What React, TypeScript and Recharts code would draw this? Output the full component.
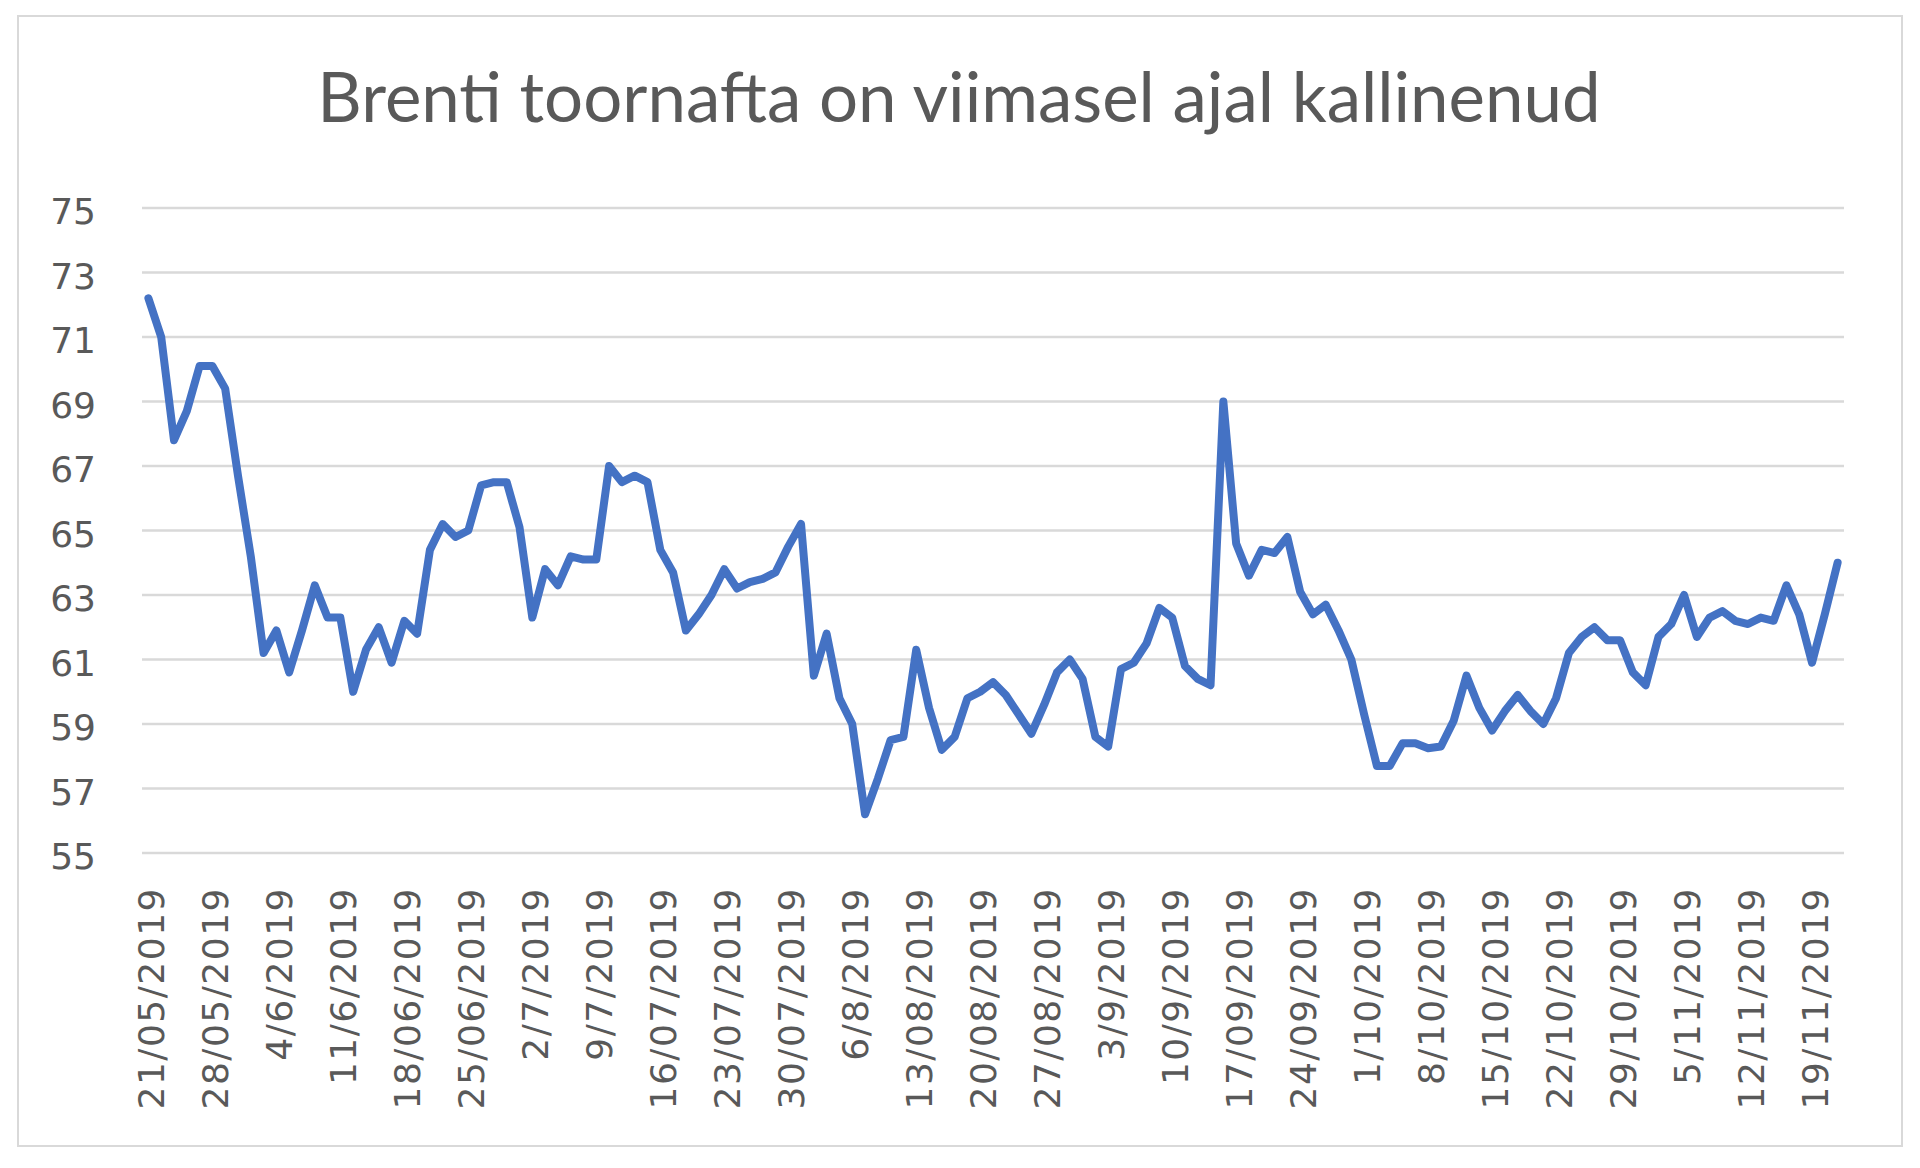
import React from 'react';
import { LineChart, Line, XAxis, YAxis, CartesianGrid } from 'recharts';

// Brent daily close, one value per trading day, 21/05/2019 .. 21/11/2019
const prices = [
  72.2, 71.0, 67.8, 68.7, 70.1, 70.1, 69.4, 66.7, 64.2, 61.2,
  61.9, 60.6, 61.9, 63.3, 62.3, 62.3, 60.0, 61.3, 62.0, 60.9,
  62.2, 61.8, 64.4, 65.2, 64.8, 65.0, 66.4, 66.5, 66.5, 65.1,
  62.3, 63.8, 63.3, 64.2, 64.1, 64.1, 67.0, 66.5, 66.7, 66.5,
  64.4, 63.7, 61.9, 62.4, 63.0, 63.8, 63.2, 63.4, 63.5, 63.7,
  64.5, 65.2, 60.5, 61.8, 59.8, 59.0, 56.2, 57.3, 58.5, 58.6,
  61.3, 59.5, 58.2, 58.6, 59.8, 60.0, 60.3, 59.9, 59.3, 58.7,
  59.6, 60.6, 61.0, 60.4, 58.6, 58.3, 60.7, 60.9, 61.5, 62.6,
  62.3, 60.8, 60.4, 60.2, 69.0, 64.6, 63.6, 64.4, 64.3, 64.8,
  63.1, 62.4, 62.7, 61.9, 61.0, 59.3, 57.7, 57.7, 58.4, 58.4,
  58.25, 58.3, 59.1, 60.5, 59.5, 58.8, 59.4, 59.9, 59.4, 59.0,
  59.8, 61.2, 61.7, 62.0, 61.6, 61.6, 60.6, 60.2, 61.7, 62.1,
  63.0, 61.7, 62.3, 62.5, 62.2, 62.1, 62.3, 62.2, 63.3, 62.4,
  60.9, 62.4, 64.0,
];

// one label every 5 trading days
const tickLabels = [
  '21/05/2019', '28/05/2019', '4/6/2019', '11/6/2019', '18/06/2019',
  '25/06/2019', '2/7/2019', '9/7/2019', '16/07/2019', '23/07/2019',
  '30/07/2019', '6/8/2019', '13/08/2019', '20/08/2019', '27/08/2019',
  '3/9/2019', '10/9/2019', '17/09/2019', '24/09/2019', '1/10/2019',
  '8/10/2019', '15/10/2019', '22/10/2019', '29/10/2019', '5/11/2019',
  '12/11/2019', '19/11/2019',
];
const labelStep = 5;

const yTicks = [55, 57, 59, 61, 63, 65, 67, 69, 71, 73, 75];

const title = 'Brenti toornafta on viimasel ajal kallinenud';

const data = prices.map((price, i) => ({ i, price }));
const xTicks = tickLabels.map((_, k) => k * labelStep);

const textColor = '#595959';
const tickFont = '"DejaVu Sans", Verdana, sans-serif';

const XTick = (props: any) => {
  const { x, y, payload } = props;
  return (
    <g transform={`translate(${x},${y})`}>
      <text
        transform="rotate(-90)"
        x={-34}
        y={0}
        dy={16}
        textAnchor="end"
        fill={textColor}
        fontSize={36}
        fontFamily={tickFont}
        letterSpacing={1.5}
      >
        {tickLabels[Math.round(payload.value / labelStep)]}
      </text>
    </g>
  );
};

const YTick = (props: any) => {
  const { x, y, payload } = props;
  return (
    <text
      x={x - 46}
      y={y}
      dy={16}
      textAnchor="end"
      fill={textColor}
      fontSize={36}
      fontFamily={tickFont}
    >
      {payload.value}
    </text>
  );
};

export default function App() {
  return (
    <div style={{ position: 'absolute', left: 0, top: 0, width: 1920, height: 1168, background: '#fff' }}>
      <div
        style={{
          position: 'absolute',
          left: 17,
          top: 15,
          width: 1882,
          height: 1128,
          border: '2px solid #d9d9d9',
        }}
      />
      <svg style={{ position: 'absolute', left: 0, top: 0 }} width={1920} height={160}>
        <text
          x={959}
          y={122}
          textAnchor="middle"
          fill={textColor}
          fontSize={69}
          fontFamily="Lato, 'Open Sans', sans-serif"
        >
          {title}
        </text>
      </svg>
      <div style={{ position: 'absolute', left: 0, top: 0 }}>
        <LineChart
          width={1920}
          height={1168}
          data={data}
          margin={{ top: 208, right: 76, bottom: 0, left: 0 }}
        >
          <CartesianGrid vertical={false} stroke="#d9d9d9" strokeWidth={2.5} />
          <XAxis
            dataKey="i"
            type="number"
            domain={[-0.5, prices.length - 0.5]}
            ticks={xTicks}
            interval={0}
            height={315}
            axisLine={false}
            tickLine={false}
            tickSize={0}
            tickMargin={0}
            tick={<XTick />}
          />
          <YAxis
            type="number"
            domain={[55, 75]}
            ticks={yTicks}
            interval={0}
            width={142}
            axisLine={false}
            tickLine={false}
            tickSize={0}
            tickMargin={0}
            tick={<YTick />}
          />
          <Line
            type="linear"
            dataKey="price"
            stroke="#4472C4"
            strokeWidth={8}
            strokeLinejoin="round"
            strokeLinecap="round"
            dot={false}
            activeDot={false}
            isAnimationActive={false}
          />
        </LineChart>
      </div>
    </div>
  );
}
